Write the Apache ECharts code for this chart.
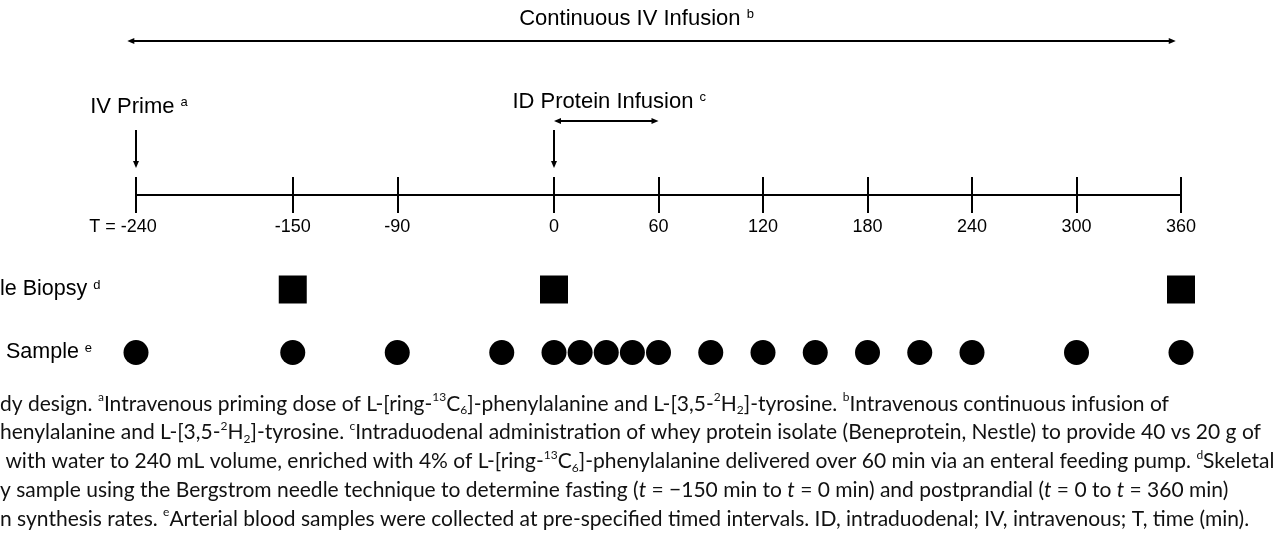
<!DOCTYPE html>
<html>
<head>
<meta charset="utf-8">
<style>
  html, body { margin: 0; padding: 0; background: #ffffff; }
  #chart { width: 1280px; height: 543px; }
</style>
<script src="https://cdn.jsdelivr.net/npm/echarts@6/dist/echarts.min.js"></script>
</head>
<body>
<div id="chart"></div>
<script>
// ---- data (minutes) ----
var timeMin = -240;
var timeMax = 360;
var tickValues = [-240, -150, -90, 0, 60, 120, 180, 240, 300, 360];
var rowNames = ['le Biopsy', ' Sample'];
var rowSups = ['d', 'e'];
var biopsyTimes = [-150, 0, 360];
var bloodTimes = [-240, -150, -90, -30, 0, 15, 30, 45, 60, 90, 120, 150, 180, 210, 240, 300, 360];
var primeTime = -240;
var proteinInfusion = [0, 60];
var ivInfusion = [-245, 357];

var ivTitle = 'Continuous IV Infusion {sup|b}';
var primeTitle = 'IV Prime {sup|a}';
var proteinTitle = 'ID Protein Infusion {sup|c}';

var captionLines = [
  'dy design. {sup|a}Intravenous priming dose of L-[ring-{sup|13}C{sub|6}]-phenylalanine and L-[3,5-{sup|2}H{sub|2}]-tyrosine. {sup|b}Intravenous continuous infusion of',
  'henylalanine and L-[3,5-{sup|2}H{sub|2}]-tyrosine. {sup|c}Intraduodenal administration of whey protein isolate (Beneprotein, Nestle) to provide 40 vs 20 g of',
  ' with water to 240 mL volume, enriched with 4% of L-[ring-{sup|13}C{sub|6}]-phenylalanine delivered over 60 min via an enteral feeding pump. {sup|d}Skeletal',
  'y sample using the Bergstrom needle technique to determine fasting ({i|t} = \u2212150 min to {i|t} = 0 min) and postprandial ({i|t} = 0 to {i|t} = 360 min)',
  'n synthesis rates. {sup|e}Arterial blood samples were collected at pre-specified timed intervals. ID, intraduodenal; IV, intravenous; T, time (min).'
];

var FIG_FONT = '"Liberation Sans", Arial, sans-serif';
var CAP_FONT = 'Lato, "Noto Sans", sans-serif';
var INK = '#000000';

var supRich = { sup: { fontSize: 13, fontFamily: FIG_FONT, verticalAlign: 'top', lineHeight: 13 } };

var option = {
  animation: false,
  backgroundColor: '#ffffff',
  grid: [
    { left: 136, right: 99, top: 100, height: 95, outerBoundsMode: 'none' },
    { left: 136, right: 99, top: 258, height: 126, outerBoundsMode: 'none' }
  ],
  xAxis: [
    {
      gridIndex: 0, type: 'value', min: timeMin, max: timeMax, position: 'bottom',
      axisLine: { show: true, lineStyle: { color: INK, width: 2 } },
      axisTick: { show: true, length: 18, customValues: tickValues, lineStyle: { color: INK, width: 2 } },
      axisLabel: {
        show: true, customValues: tickValues, margin: 23,
        fontFamily: FIG_FONT, fontSize: 18, color: INK,
        formatter: function (v) {
          return v === timeMin ? '{t|T = }' + v + '{pad|}' : String(v);
        },
        rich: { t: { fontFamily: FIG_FONT, fontSize: 18, color: INK }, pad: { width: 26 } }
      },
      splitLine: { show: false }
    },
    {
      gridIndex: 0, type: 'value', min: timeMin, max: timeMax, position: 'bottom',
      axisLine: { show: false },
      axisTick: { show: true, inside: true, length: 18, customValues: tickValues, lineStyle: { color: INK, width: 2 } },
      axisLabel: { show: false },
      splitLine: { show: false }
    },
    { gridIndex: 1, type: 'value', min: timeMin, max: timeMax, show: false }
  ],
  yAxis: [
    { gridIndex: 0, type: 'value', show: false },
    {
      gridIndex: 1, type: 'category', inverse: true, data: rowNames,
      axisLine: { show: false }, axisTick: { show: false }, splitLine: { show: false },
      axisLabel: {
        align: 'left', margin: 136, fontFamily: FIG_FONT, fontSize: 21.5, color: INK,
        formatter: function (v, i) { return v + ' {sup|' + rowSups[i] + '}'; },
        rich: supRich
      }
    }
  ],
  series: [
    {
      name: 'Biopsy', type: 'scatter', xAxisIndex: 2, yAxisIndex: 1,
      symbol: 'rect', symbolSize: 28, itemStyle: { color: INK, opacity: 1 },
      data: biopsyTimes.map(function (t) { return [t, rowNames[0]]; })
    },
    {
      name: 'Blood', type: 'scatter', xAxisIndex: 2, yAxisIndex: 1,
      symbol: 'circle', symbolSize: 25, itemStyle: { color: INK, opacity: 1 },
      data: bloodTimes.map(function (t) { return [t, rowNames[1]]; })
    }
  ]
};

var chart = echarts.init(document.getElementById('chart'), null, { renderer: 'canvas' });
chart.setOption(option);

function px(t) { return chart.convertToPixel({ xAxisIndex: 0 }, t); }

// filled arrow head, tip at (x, y)
function head(x, y, dir) {
  var L = 7, W = 3, pts;
  if (dir === 'left') pts = [[x, y], [x + L, y - W], [x + L, y + W]];
  else if (dir === 'right') pts = [[x, y], [x - L, y - W], [x - L, y + W]];
  else pts = [[x, y], [x - W, y - L], [x + W, y - L]];
  return { type: 'polygon', silent: true, shape: { points: pts }, style: { fill: INK } };
}
function seg(x1, y1, x2, y2) {
  return { type: 'line', silent: true, shape: { x1: x1, y1: y1, x2: x2, y2: y2 }, style: { stroke: INK, lineWidth: 2 } };
}
function label(text, x, y) {
  return {
    type: 'text', silent: true, x: x, y: y,
    style: { text: text, rich: supRich, fontFamily: FIG_FONT, fontSize: 22, fill: INK, align: 'center', verticalAlign: 'middle' }
  };
}

var g = [];
// continuous IV infusion
var a0 = px(ivInfusion[0]), a1 = px(ivInfusion[1]);
g.push(seg(a0 + 4, 41, a1 - 4, 41), head(a0, 41, 'left'), head(a1, 41, 'right'));
g.push(label(ivTitle, (a0 + a1) / 2 - 15, 19));
// IV prime
var pX = px(primeTime);
g.push(seg(pX, 130, pX, 163), head(pX, 168, 'down'));
g.push(label(primeTitle, pX + 3, 107));
// ID protein infusion
var s0 = px(proteinInfusion[0]), s1 = px(proteinInfusion[1]);
g.push(seg(s0 + 4, 121, s1 - 4, 121), head(s0, 121, 'left'), head(s1, 121, 'right'));
g.push(seg(s0, 130, s0, 163), head(s0, 168, 'down'));
g.push(label(proteinTitle, (s0 + s1) / 2 + 3, 102));

// caption
var capRich = {
  sup: { fontSize: 12, fontFamily: CAP_FONT, verticalAlign: 'top', lineHeight: 12, fill: '#111' },
  sub: { fontSize: 12, fontFamily: CAP_FONT, verticalAlign: 'bottom', lineHeight: 12, fill: '#111' },
  i: { fontStyle: 'italic', fontFamily: CAP_FONT, fontSize: 21 }
};
captionLines.forEach(function (line, k) {
  g.push({
    type: 'text', silent: true, x: 0, y: 404 + k * 28.7,
    style: { text: line, rich: capRich, fontFamily: CAP_FONT, fontSize: 21, lineHeight: 25, fill: '#111', align: 'left', verticalAlign: 'middle' }
  });
});

chart.setOption({ graphic: g });
</script>
</body>
</html>
